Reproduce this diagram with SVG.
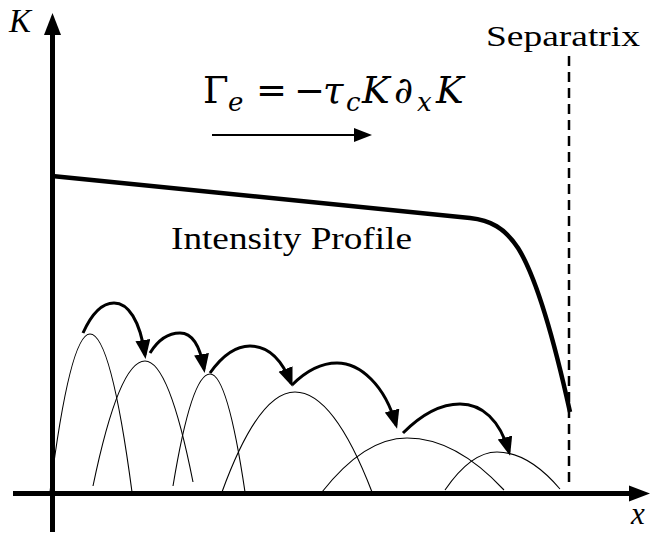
<svg xmlns="http://www.w3.org/2000/svg" width="650" height="535" viewBox="0 0 650 535">
<style>
text{font-family:'Liberation Serif','DejaVu Serif',serif;fill:#000}
.eq{font-family:'DejaVu Serif','Liberation Serif',serif}
.it{font-style:italic}
.arc{fill:none;stroke:#000;stroke-width:1.1}
.hop{fill:none;stroke:#000;stroke-width:3}
.axis{stroke:#000;stroke-width:5;fill:none}
</style>
<defs>
<marker id="ah" markerUnits="userSpaceOnUse" markerWidth="20" markerHeight="16" refX="15" refY="7.5" orient="auto">
<path d="M0,0 L19,7.5 L0,15 z" fill="#000"/>
</marker>
</defs>
<rect width="650" height="535" fill="#fff"/>
<g id="axes">
<line class="axis" x1="52.5" y1="532" x2="52.5" y2="32"/>
<polygon points="52.5,13 61,35 44,35" fill="#000"/>
<line class="axis" x1="13" y1="493.5" x2="632" y2="493.5"/>
<polygon points="650,493.5 629,485.5 629,501.5" fill="#000"/>
<text class="it" x="9" y="32" font-size="33">K</text>
<text class="it" x="631" y="524" font-size="31">x</text>
</g>
<g id="separatrix">
<line x1="569" y1="56" x2="569" y2="484" stroke="#000" stroke-width="2.5" stroke-dasharray="10,6"/>
<text x="486" y="46" font-size="30" textLength="154" lengthAdjust="spacingAndGlyphs">Separatrix</text>
</g>
<g id="profile">
<path d="M52,176 L470,218 C490,220 505,228 518,248 C535,275 553,335 570,412" fill="none" stroke="#000" stroke-width="4.5"/>
<text x="171" y="249" font-size="32" textLength="241" lengthAdjust="spacingAndGlyphs">Intensity Profile</text>
</g>
<g id="flux">
<text class="eq" font-size="37"><tspan x="203" y="103">Γ</tspan><tspan class="it" x="228" y="111" font-size="26">e</tspan><tspan x="256" y="103">=</tspan><tspan x="294" y="103">−</tspan><tspan class="it" x="323" y="103">τ</tspan><tspan class="it" x="346" y="111" font-size="26">c</tspan><tspan class="it" x="362" y="103">K</tspan><tspan class="it" x="394" y="103">∂</tspan><tspan class="it" x="417" y="111" font-size="26">x</tspan><tspan class="it" x="436" y="103">K</tspan></text>
<line x1="212" y1="135" x2="356" y2="135" stroke="#000" stroke-width="2.2"/>
<polygon points="372,135 354,128 354,142" fill="#000"/>
</g>
<g id="packets">
<path class="arc" d="M50,492 Q70,334 90,334 Q111,334 132,492"/>
<path class="arc" d="M93,486 Q119,361 145,361 Q169,361 193,482"/>
<path class="arc" d="M173,486 Q191.5,374 210,374 Q227.5,374 245,492"/>
<path class="arc" d="M222,492 Q258.5,392 295,392 Q333.5,392 372,492"/>
<path class="arc" d="M322,492 Q364.5,438 407,438 Q455.5,438 504,490"/>
<path class="arc" d="M445,490 Q471,452 497,452 Q528.5,452 560,489"/>
</g>
<g id="connectors">
<path class="hop" marker-end="url(#ah)" d="M83,333 C92,313 103,303 114,303 C128,303 140,320 145,355"/>
<path class="hop" marker-end="url(#ah)" d="M150,353 C158,340 168,333 180,333 C192,333 200,345 204,369"/>
<path class="hop" marker-end="url(#ah)" d="M210,373 C222,356 235,346 250,346 C268,346 282,360 291,383"/>
<path class="hop" marker-end="url(#ah)" d="M292,385 C305,372 320,363 337,363 C360,363 385,385 396,425"/>
<path class="hop" marker-end="url(#ah)" d="M403,433 C418,418 438,404 460,404 C482,404 500,420 509,452"/>
</g>
</svg>
